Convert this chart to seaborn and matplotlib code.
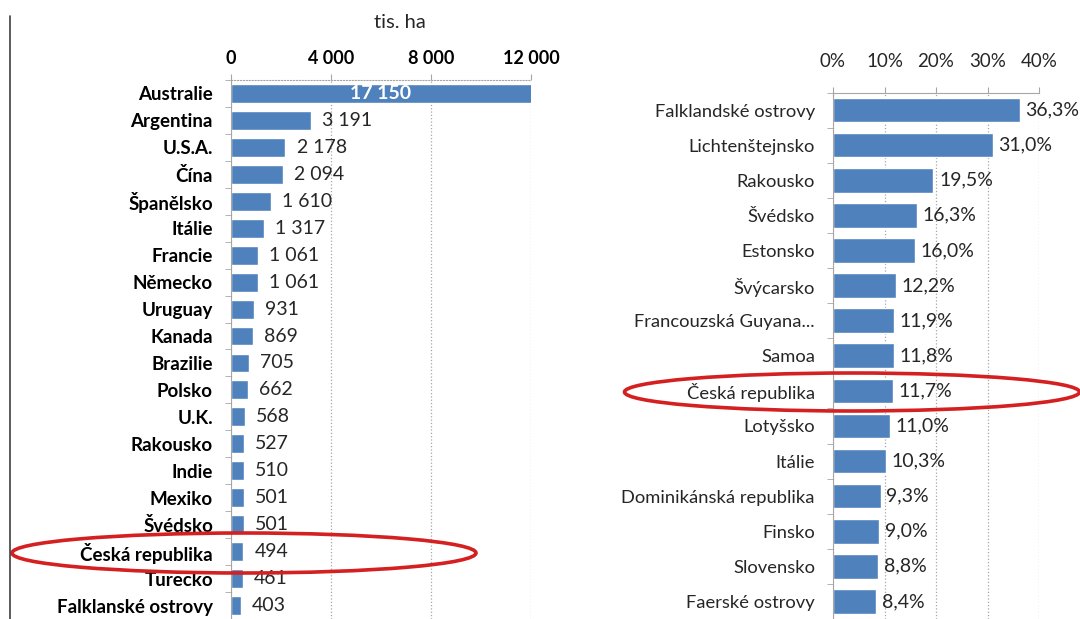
import matplotlib
matplotlib.use('Agg')
import matplotlib.pyplot as plt
import seaborn as sb
import numpy as np
from matplotlib.patches import Ellipse
from matplotlib.lines import Line2D
from matplotlib.ticker import FuncFormatter

# Data - organic farmland, absolute (thousand ha) and share of farmland
area_countries = ['Australie', 'Argentina', 'U.S.A.', 'Čína', 'Španělsko', 'Itálie',
                  'Francie', 'Německo', 'Uruguay', 'Kanada', 'Brazilie', 'Polsko',
                  'U.K.', 'Rakousko', 'Indie', 'Mexiko', 'Švédsko', 'Česká republika',
                  'Turecko', 'Falklanské ostrovy']
area_values = [17150, 3191, 2178, 2094, 1610, 1317, 1061, 1061, 931, 869, 705, 662,
               568, 527, 510, 501, 501, 494, 461, 403]
area_ticks = [0, 4000, 8000, 12000]

share_countries = ['Falklandské ostrovy', 'Lichtenštejnsko', 'Rakousko', 'Švédsko',
                   'Estonsko', 'Švýcarsko', 'Francouzská Guyana...', 'Samoa',
                   'Česká republika', 'Lotyšsko', 'Itálie', 'Dominikánská republika',
                   'Finsko', 'Slovensko', 'Faerské ostrovy']
share_values = [36.3, 31.0, 19.5, 16.3, 16.0, 12.2, 11.9, 11.8, 11.7, 11.0, 10.3,
                9.3, 9.0, 8.8, 8.4]
share_ticks = [0, 10, 20, 30, 40]

bar_color = '#4F81BD'
grid_color = '#A6A6A6'
text_color = '#262626'

sb.set_style('white')
plt.rcParams['font.family'] = ['Lato', 'DejaVu Sans']

fig = plt.figure(figsize=(10.8, 6.19), dpi=100)
W, H = 1080, 619


def axes_px(left, top, right, bottom):
    return fig.add_axes([left / W, 1 - bottom / H, (right - left) / W, (bottom - top) / H])


def thousands(v, pos=None):
    return f'{int(v):,}'.replace(',', ' ')


# ---- left chart: thousand ha ----
ax1 = axes_px(231, 80, 531, 619)
sb.barplot(x=area_values, y=area_countries, color=bar_color, orient='h',
           width=0.7, saturation=1, ax=ax1)
ax1.set_xlim(0, 12000)
ax1.set_ylim(len(area_countries) - 0.5, -0.5)
ax1.set_xticks(area_ticks)
ax1.xaxis.set_major_formatter(FuncFormatter(thousands))
ax1.xaxis.tick_top()
ax1.set_xlabel('')
ax1.set_ylabel('')
ax1.grid(axis='x', linestyle=':', color=grid_color, linewidth=0.9)
ax1.set_axisbelow(True)
for side in ['right', 'bottom']:
    ax1.spines[side].set_visible(False)
ax1.spines['top'].set_linestyle(':')
ax1.spines['top'].set_color(grid_color)
ax1.spines['left'].set_color(grid_color)
ax1.set_yticks(np.arange(-0.5, len(area_countries), 1), minor=True)
ax1.tick_params(axis='y', which='major', length=0, pad=13, labelsize=13.5, labelcolor='black')
ax1.tick_params(axis='y', which='minor', length=4, color=grid_color, left=True)
ax1.tick_params(axis='x', which='major', length=4, color=grid_color, pad=5,
                labelsize=13, labelcolor='black')
for lbl in ax1.get_yticklabels() + ax1.get_xticklabels():
    lbl.set_fontweight('bold')

cont = ax1.containers[0]
ax1.bar_label(cont, labels=[thousands(area_values[0])] + [''] * (len(area_values) - 1),
              label_type='center', color='white', fontweight='bold', fontsize=14)
ax1.bar_label(cont, labels=[''] + [thousands(v) for v in area_values[1:]],
              padding=8, color=text_color, fontsize=14)

fig.text(400 / W, 1 - 22 / H, 'tis. ha', ha='center', va='center',
         fontsize=14.5, color=text_color)

# ---- right chart: share of farmland ----
ax2 = axes_px(833, 92.5, 1039, 619)
sb.barplot(x=share_values, y=share_countries, color=bar_color, orient='h',
           width=0.7, saturation=1, ax=ax2)
ax2.set_xlim(0, 40)
ax2.set_ylim(len(share_countries) - 0.5, -0.5)
ax2.set_xticks(share_ticks)
ax2.xaxis.set_major_formatter(FuncFormatter(lambda v, p: f'{int(v)}%'))
ax2.xaxis.tick_top()
ax2.set_xlabel('')
ax2.set_ylabel('')
ax2.grid(axis='x', linestyle=':', color=grid_color, linewidth=0.9)
ax2.set_axisbelow(True)
for side in ['right', 'bottom']:
    ax2.spines[side].set_visible(False)
ax2.spines['top'].set_color(grid_color)
ax2.spines['left'].set_color(grid_color)
ax2.set_yticks(np.arange(-0.5, len(share_countries), 1), minor=True)
ax2.tick_params(axis='y', which='major', length=0, pad=13, labelsize=13.2, labelcolor=text_color)
ax2.tick_params(axis='y', which='minor', length=4, color=grid_color, left=True)
ax2.tick_params(axis='x', which='major', length=4, color=grid_color, pad=12,
                labelsize=13.5, labelcolor=text_color)
ax2.bar_label(ax2.containers[0], labels=[f'{v:.1f}%'.replace('.', ',') for v in share_values],
              padding=4, color=text_color, fontsize=14)

# ---- highlight Czech Republic + page border ----
for cx, cy, ew, eh in [(244, 553, 464, 40), (852, 392, 455, 38)]:
    fig.add_artist(Ellipse((cx / W, 1 - cy / H), ew / W, eh / H, transform=fig.transFigure,
                           fill=False, edgecolor='#D42020', linewidth=2.6))
fig.add_artist(Line2D([9.5 / W, 9.5 / W], [1 - 16 / H, 0], transform=fig.transFigure,
                      color='#404040', linewidth=1.2))

fig.savefig('out.png', dpi=100, facecolor='white')
